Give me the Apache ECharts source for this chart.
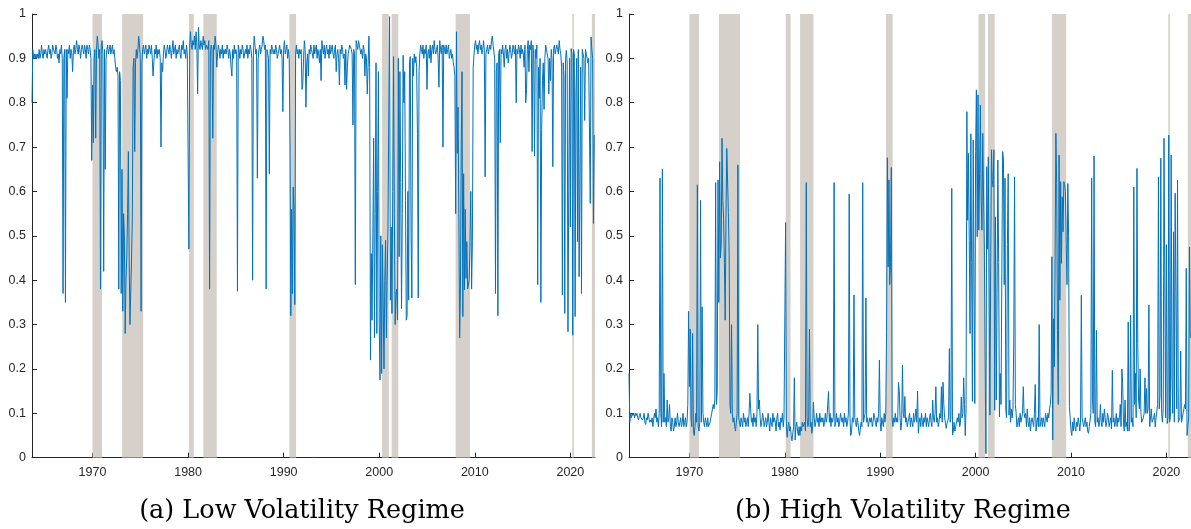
<!DOCTYPE html>
<html><head><meta charset="utf-8">
<script src="https://cdn.jsdelivr.net/npm/echarts@6/dist/echarts.min.js"></script>
<style>html,body{margin:0;padding:0;background:#fff}#c{width:1191px;height:529px}</style>
</head><body><div id="c"></div>
<script>
// monthly observations, first one is September 1963
const startYear = 1963, startMonth = 9;

const lowVolatility = [
/*1963*/ 0.80,0.92,0.90,0.91,
/*1964*/ 0.90,0.91,0.90,0.91,0.90,0.92,0.90,0.91,0.93,0.91,0.90,0.92,
/*1965*/ 0.91,0.92,0.91,0.90,0.92,0.93,0.91,0.92,0.90,0.91,0.93,0.92,
/*1966*/ 0.92,0.91,0.93,0.92,0.90,0.91,0.89,0.92,0.91,0.93,0.90,0.37,
/*1967*/ 0.90,0.92,0.35,0.92,0.81,0.92,0.91,0.93,0.90,0.92,0.91,0.87,
/*1968*/ 0.92,0.93,0.91,0.92,0.94,0.92,0.91,0.93,0.92,0.90,0.92,0.93,
/*1969*/ 0.92,0.91,0.93,0.92,0.90,0.93,0.92,0.91,0.93,0.92,0.90,0.67,
/*1970*/ 0.84,0.71,0.90,0.92,0.72,0.92,0.95,0.93,0.90,0.92,0.38,0.93,
/*1971*/ 0.94,0.91,0.42,0.92,0.65,0.90,0.92,0.93,0.91,0.92,0.93,0.91,
/*1972*/ 0.92,0.93,0.91,0.92,0.90,0.88,0.87,0.88,0.86,0.38,0.87,0.85,
/*1973*/ 0.37,0.65,0.33,0.55,0.50,0.28,0.40,0.45,0.55,0.69,0.45,0.30,
/*1974*/ 0.30,0.45,0.54,0.88,0.90,0.69,0.89,0.92,0.90,0.92,0.95,0.93,
/*1975*/ 0.90,0.33,0.89,0.92,0.93,0.91,0.92,0.93,0.90,0.92,0.91,0.93,
/*1976*/ 0.92,0.91,0.93,0.90,0.86,0.89,0.92,0.91,0.93,0.90,0.92,0.91,
/*1977*/ 0.92,0.90,0.70,0.89,0.87,0.91,0.93,0.92,0.90,0.91,0.93,0.92,
/*1978*/ 0.91,0.93,0.92,0.90,0.92,0.94,0.91,0.92,0.93,0.90,0.92,0.91,
/*1979*/ 0.92,0.93,0.91,0.90,0.93,0.92,0.94,0.91,0.92,0.90,0.93,0.91,
/*1980*/ 0.91,0.47,0.93,0.96,0.93,0.92,0.94,0.93,0.95,0.92,0.96,0.93,
/*1981*/ 0.82,0.97,0.93,0.92,0.94,0.93,0.92,0.95,0.93,0.94,0.92,0.93,
/*1982*/ 0.93,0.92,0.94,0.38,0.91,0.93,0.92,0.72,0.93,0.92,0.95,0.93,
/*1983*/ 0.88,0.91,0.93,0.92,0.90,0.92,0.91,0.93,0.90,0.92,0.91,0.92,
/*1984*/ 0.91,0.93,0.92,0.90,0.92,0.91,0.88,0.86,0.92,0.90,0.93,0.91,
/*1985*/ 0.92,0.91,0.375,0.93,0.92,0.90,0.92,0.91,0.93,0.92,0.90,0.91,
/*1986*/ 0.92,0.91,0.93,0.90,0.92,0.91,0.93,0.92,0.90,0.40,0.91,0.95,
/*1987*/ 0.93,0.91,0.92,0.63,0.90,0.92,0.93,0.91,0.92,0.93,0.95,0.94,
/*1988*/ 0.92,0.93,0.38,0.92,0.91,0.90,0.64,0.92,0.91,0.93,0.92,0.91,
/*1989*/ 0.92,0.91,0.93,0.92,0.90,0.91,0.92,0.93,0.91,0.92,0.90,0.78,
/*1990*/ 0.92,0.94,0.91,0.92,0.93,0.90,0.92,0.90,0.71,0.32,0.56,0.37,
/*1991*/ 0.61,0.56,0.345,0.91,0.93,0.91,0.92,0.90,0.92,0.91,0.92,0.83,
/*1992*/ 0.84,0.90,0.94,0.92,0.79,0.89,0.91,0.86,0.92,0.91,0.93,0.92,
/*1993*/ 0.92,0.90,0.93,0.91,0.92,0.93,0.90,0.92,0.91,0.89,0.92,0.85,
/*1994*/ 0.94,0.92,0.91,0.93,0.90,0.92,0.93,0.91,0.92,0.90,0.93,0.91,
/*1995*/ 0.92,0.93,0.91,0.90,0.92,0.93,0.87,0.91,0.92,0.90,0.84,0.92,
/*1996*/ 0.91,0.93,0.92,0.90,0.91,0.84,0.92,0.83,0.88,0.91,0.92,0.93,
/*1997*/ 0.93,0.92,0.91,0.75,0.92,0.91,0.39,0.94,0.93,0.92,0.94,0.93,
/*1998*/ 0.93,0.91,0.92,0.90,0.93,0.92,0.86,0.91,0.90,0.82,0.88,0.95,
/*1999*/ 0.88,0.22,0.46,0.31,0.50,0.72,0.27,0.55,0.89,0.28,0.60,0.87,
/*2000*/ 0.30,0.175,0.50,0.19,0.48,0.35,0.20,0.40,0.49,0.27,0.40,0.52,
/*2001*/ 0.77,0.994,0.355,0.52,0.325,0.60,0.904,0.55,0.30,0.37,0.38,0.31,
/*2002*/ 0.90,0.453,0.87,0.62,0.336,0.55,0.907,0.80,0.87,0.58,0.31,0.32,
/*2003*/ 0.60,0.355,0.89,0.904,0.50,0.36,0.90,0.86,0.91,0.89,0.904,0.88,
/*2004*/ 0.73,0.36,0.87,0.91,0.93,0.92,0.91,0.93,0.90,0.92,0.91,0.93,
/*2005*/ 0.83,0.91,0.92,0.90,0.93,0.89,0.92,0.93,0.91,0.94,0.92,0.91,
/*2006*/ 0.92,0.93,0.90,0.835,0.94,0.92,0.91,0.93,0.70,0.93,0.92,0.91,
/*2007*/ 0.93,0.91,0.92,0.93,0.90,0.91,0.92,0.90,0.91,0.89,0.88,0.86,
/*2008*/ 0.55,0.96,0.686,0.79,0.55,0.27,0.38,0.70,0.87,0.318,0.64,0.378,
/*2009*/ 0.56,0.404,0.487,0.38,0.38,0.40,0.487,0.60,0.38,0.487,0.88,0.907,
/*2010*/ 0.93,0.94,0.92,0.93,0.91,0.93,0.94,0.92,0.93,0.91,0.92,0.94,
/*2011*/ 0.92,0.633,0.91,0.92,0.93,0.91,0.92,0.93,0.92,0.94,0.95,0.93,
/*2012*/ 0.93,0.90,0.37,0.87,0.89,0.32,0.91,0.92,0.71,0.92,0.91,0.93,
/*2013*/ 0.91,0.88,0.92,0.93,0.90,0.92,0.89,0.91,0.93,0.92,0.90,0.91,
/*2014*/ 0.93,0.92,0.91,0.93,0.80,0.92,0.91,0.93,0.92,0.90,0.93,0.91,
/*2015*/ 0.92,0.91,0.88,0.93,0.80,0.83,0.92,0.94,0.87,0.93,0.92,0.94,
/*2016*/ 0.69,0.93,0.91,0.68,0.92,0.90,0.93,0.39,0.88,0.81,0.90,0.35,
/*2017*/ 0.74,0.85,0.89,0.785,0.90,0.93,0.92,0.91,0.90,0.82,0.90,0.85,
/*2018*/ 0.92,0.90,0.656,0.922,0.93,0.91,0.92,0.93,0.92,0.91,0.94,0.92,
/*2019*/ 0.91,0.88,0.367,0.89,0.862,0.325,0.90,0.918,0.89,0.284,0.603,0.90,
/*2020*/ 0.52,0.922,0.91,0.276,0.92,0.91,0.318,0.82,0.90,0.487,0.92,0.408,
/*2021*/ 0.633,0.88,0.37,0.92,0.91,0.90,0.76,0.92,0.91,0.90,0.89,0.90,
/*2022*/ 0.90,0.573,0.948,0.92,0.90,0.528,0.727
];

const highVolatility = [
/*1963*/ 0.19,0.08,0.10,0.09,
/*1964*/ 0.10,0.095,0.10,0.09,0.10,0.095,0.10,0.09,0.085,0.095,0.10,0.09,
/*1965*/ 0.09,0.085,0.09,0.10,0.08,0.075,0.09,0.085,0.10,0.09,0.08,0.085,
/*1966*/ 0.08,0.09,0.07,0.085,0.10,0.09,0.11,0.08,0.09,0.07,0.10,0.63,
/*1967*/ 0.10,0.07,0.65,0.08,0.19,0.08,0.09,0.07,0.13,0.08,0.09,0.12,
/*1968*/ 0.07,0.06,0.09,0.08,0.06,0.07,0.09,0.07,0.08,0.10,0.08,0.07,
/*1969*/ 0.08,0.09,0.07,0.08,0.10,0.07,0.08,0.09,0.07,0.08,0.12,0.33,
/*1970*/ 0.16,0.29,0.09,0.07,0.28,0.06,0.05,0.07,0.10,0.08,0.615,0.07,
/*1971*/ 0.06,0.08,0.58,0.08,0.34,0.10,0.08,0.07,0.09,0.08,0.07,0.09,
/*1972*/ 0.07,0.07,0.08,0.08,0.10,0.11,0.12,0.11,0.13,0.62,0.12,0.15,
/*1973*/ 0.626,0.35,0.667,0.45,0.48,0.72,0.58,0.54,0.44,0.31,0.54,0.697,
/*1974*/ 0.70,0.553,0.46,0.12,0.10,0.30,0.10,0.08,0.09,0.07,0.06,0.06,
/*1975*/ 0.10,0.66,0.09,0.08,0.07,0.09,0.08,0.07,0.10,0.08,0.09,0.07,
/*1976*/ 0.08,0.09,0.07,0.10,0.145,0.11,0.08,0.09,0.07,0.10,0.08,0.09,
/*1977*/ 0.07,0.10,0.30,0.11,0.13,0.09,0.07,0.08,0.10,0.09,0.07,0.08,
/*1978*/ 0.09,0.07,0.08,0.10,0.08,0.06,0.09,0.08,0.07,0.10,0.08,0.09,
/*1979*/ 0.08,0.06,0.09,0.10,0.07,0.08,0.063,0.09,0.08,0.10,0.07,0.09,
/*1980*/ 0.09,0.53,0.07,0.046,0.07,0.08,0.06,0.07,0.05,0.038,0.04,0.07,
/*1981*/ 0.18,0.04,0.07,0.08,0.06,0.05,0.07,0.05,0.07,0.06,0.08,0.07,
/*1982*/ 0.07,0.08,0.06,0.62,0.09,0.07,0.08,0.29,0.07,0.08,0.055,0.07,
/*1983*/ 0.125,0.09,0.07,0.08,0.10,0.08,0.09,0.07,0.10,0.08,0.09,0.08,
/*1984*/ 0.09,0.07,0.08,0.10,0.08,0.09,0.12,0.149,0.08,0.10,0.07,0.09,
/*1985*/ 0.08,0.09,0.62,0.07,0.08,0.10,0.08,0.09,0.07,0.08,0.10,0.09,
/*1986*/ 0.08,0.09,0.07,0.10,0.08,0.09,0.07,0.08,0.10,0.594,0.09,0.05,
/*1987*/ 0.06,0.09,0.08,0.367,0.09,0.08,0.07,0.09,0.08,0.06,0.05,0.046,
/*1988*/ 0.08,0.07,0.62,0.08,0.09,0.10,0.36,0.08,0.09,0.07,0.08,0.09,
/*1989*/ 0.08,0.09,0.07,0.08,0.10,0.09,0.08,0.07,0.09,0.08,0.10,0.22,
/*1990*/ 0.08,0.06,0.09,0.08,0.07,0.10,0.08,0.10,0.285,0.676,0.43,0.626,
/*1991*/ 0.39,0.44,0.654,0.085,0.07,0.09,0.08,0.10,0.08,0.09,0.08,0.17,
/*1992*/ 0.15,0.09,0.062,0.08,0.209,0.10,0.09,0.138,0.08,0.09,0.07,0.08,
/*1993*/ 0.08,0.10,0.07,0.09,0.08,0.07,0.10,0.08,0.09,0.11,0.08,0.15,
/*1994*/ 0.055,0.08,0.09,0.07,0.10,0.08,0.07,0.09,0.08,0.10,0.07,0.09,
/*1995*/ 0.08,0.07,0.09,0.10,0.08,0.07,0.13,0.09,0.08,0.10,0.16,0.08,
/*1996*/ 0.09,0.07,0.08,0.10,0.09,0.16,0.08,0.17,0.12,0.09,0.08,0.066,
/*1997*/ 0.077,0.08,0.09,0.246,0.08,0.09,0.607,0.051,0.06,0.08,0.06,0.07,
/*1998*/ 0.07,0.09,0.08,0.10,0.07,0.08,0.137,0.09,0.10,0.18,0.12,0.05,
/*1999*/ 0.11,0.78,0.535,0.686,0.49,0.28,0.73,0.44,0.127,0.716,0.39,0.122,
/*2000*/ 0.69,0.829,0.498,0.818,0.513,0.64,0.795,0.58,0.513,0.731,0.59,0.47,
/*2001*/ 0.22,0.009,0.656,0.47,0.678,0.39,0.096,0.44,0.694,0.625,0.61,0.694,
/*2002*/ 0.107,0.543,0.13,0.37,0.671,0.44,0.092,0.19,0.12,0.415,0.69,0.675,
/*2003*/ 0.39,0.63,0.107,0.09,0.48,0.64,0.096,0.13,0.08,0.11,0.09,0.11,
/*2004*/ 0.265,0.633,0.12,0.10,0.069,0.08,0.09,0.07,0.10,0.08,0.09,0.10,
/*2005*/ 0.16,0.10,0.09,0.10,0.07,0.11,0.08,0.07,0.09,0.06,0.08,0.09,
/*2006*/ 0.08,0.07,0.10,0.165,0.06,0.08,0.09,0.07,0.30,0.07,0.08,0.09,
/*2007*/ 0.07,0.09,0.08,0.07,0.10,0.09,0.08,0.10,0.09,0.11,0.12,0.145,
/*2008*/ 0.453,0.04,0.313,0.205,0.453,0.731,0.618,0.287,0.12,0.682,0.355,0.622,
/*2009*/ 0.438,0.588,0.509,0.622,0.615,0.60,0.483,0.39,0.618,0.50,0.115,0.09,
/*2010*/ 0.062,0.05,0.08,0.06,0.09,0.07,0.06,0.08,0.07,0.09,0.08,0.06,
/*2011*/ 0.08,0.366,0.09,0.08,0.07,0.08,0.09,0.07,0.08,0.06,0.055,0.07,
/*2012*/ 0.07,0.10,0.63,0.13,0.10,0.68,0.08,0.07,0.287,0.08,0.09,0.07,
/*2013*/ 0.08,0.12,0.08,0.07,0.10,0.08,0.11,0.09,0.07,0.08,0.10,0.09,
/*2014*/ 0.07,0.08,0.09,0.065,0.197,0.08,0.09,0.07,0.08,0.10,0.07,0.09,
/*2015*/ 0.08,0.09,0.12,0.07,0.20,0.168,0.08,0.06,0.13,0.07,0.08,0.06,
/*2016*/ 0.306,0.06,0.08,0.321,0.08,0.09,0.07,0.61,0.12,0.19,0.09,0.652,
/*2017*/ 0.258,0.13,0.11,0.20,0.10,0.08,0.08,0.09,0.10,0.18,0.10,0.156,
/*2018*/ 0.10,0.11,0.344,0.07,0.07,0.11,0.08,0.08,0.09,0.10,0.069,0.09,
/*2019*/ 0.09,0.12,0.633,0.11,0.14,0.675,0.10,0.08,0.11,0.72,0.396,0.09,
/*2020*/ 0.48,0.077,0.09,0.727,0.08,0.09,0.682,0.18,0.10,0.509,0.08,0.596,
/*2021*/ 0.37,0.11,0.626,0.08,0.08,0.09,0.24,0.08,0.09,0.10,0.11,0.12,
/*2022*/ 0.11,0.427,0.05,0.07,0.09,0.475,0.27
];

// shaded recession periods [start, end] in decimal years
const recessionStart = [1970.0, 1973.1, 1980.1, 1981.6, 1990.6, 2000.3, 2001.3, 2008.0, 2020.2, 2022.25];
const recessionEnd   = [1971.0, 1975.3, 1980.6, 1983.0, 1991.3, 2001.0, 2002.0, 2009.5, 2020.37, 2022.7];

const xTickYears = [1970, 1980, 1990, 2000, 2010, 2020];
const xMin = 1963 + 8/12, xMax = 2022.58;
const captions = ['(a) Low Volatility Regime', '(b) High Volatility Regime'];

function toPairs(arr) {
  return arr.map((v, i) => [startYear + (startMonth - 1 + i) / 12, v]);
}
const recessions = recessionStart.map((s, i) => [s, recessionEnd[i]]);

const axisColor = '#262626';
const labelFont = { color: axisColor, fontSize: 12.5, fontFamily: '"Liberation Sans", Arial, sans-serif' };

function makeX(gi) {
  return {
    type: 'value', gridIndex: gi, min: xMin, max: xMax,
    axisLine: { show: true, onZero: false, lineStyle: { color: axisColor, width: 1 } },
    axisTick: { show: true, inside: true, length: 5, customValues: xTickYears, lineStyle: { color: axisColor } },
    axisLabel: Object.assign({ customValues: xTickYears, margin: 8, formatter: v => String(Math.round(v)) }, labelFont),
    splitLine: { show: false }
  };
}
function makeY(gi) {
  return {
    type: 'value', gridIndex: gi, min: 0, max: 1, interval: 0.1,
    axisLine: { show: true, onZero: false, lineStyle: { color: axisColor, width: 1 } },
    axisTick: { show: true, inside: true, length: 5, lineStyle: { color: axisColor } },
    axisLabel: Object.assign({ margin: 6 }, labelFont),
    splitLine: { show: false }
  };
}
function shade(gi) {
  return {
    type: 'custom', xAxisIndex: gi, yAxisIndex: gi, data: recessions, z: 1, silent: true, clip: true,
    encode: { x: [0, 1] },
    renderItem: function (params, api) {
      const p0 = api.coord([api.value(0), 1]);
      const p1 = api.coord([api.value(1), 0]);
      return { type: 'rect', shape: { x: p0[0], y: p0[1], width: Math.max(p1[0] - p0[0], 1), height: p1[1] - p0[1] },
               style: { fill: '#d5d0c9' } };
    }
  };
}
function line(gi, arr) {
  return {
    type: 'line', xAxisIndex: gi, yAxisIndex: gi, data: toPairs(arr), showSymbol: false, symbol: 'none',
    lineStyle: { color: '#0072BD', width: 1 }, z: 3, clip: true
  };
}

const chart = echarts.init(document.getElementById('c'), null, { renderer: 'canvas' });
chart.setOption({
  animation: false,
  backgroundColor: '#fff',
  grid: [
    { left: 32, top: 14, width: 563, height: 443.7 },
    { left: 629, top: 14, width: 563, height: 443.7 }
  ],
  xAxis: [makeX(0), makeX(1)],
  yAxis: [makeY(0), makeY(1)],
  series: [shade(0), line(0, lowVolatility), shade(1), line(1, highVolatility)],
  graphic: [
    { type: 'text', x: 302, y: 511, style: { text: captions[0], font: '25.5px "DejaVu Serif", serif', fill: '#000', align: 'center', verticalAlign: 'middle' } },
    { type: 'text', x: 903, y: 511, style: { text: captions[1], font: '25.5px "DejaVu Serif", serif', fill: '#000', align: 'center', verticalAlign: 'middle' } }
  ]
});
</script>
</body></html>
